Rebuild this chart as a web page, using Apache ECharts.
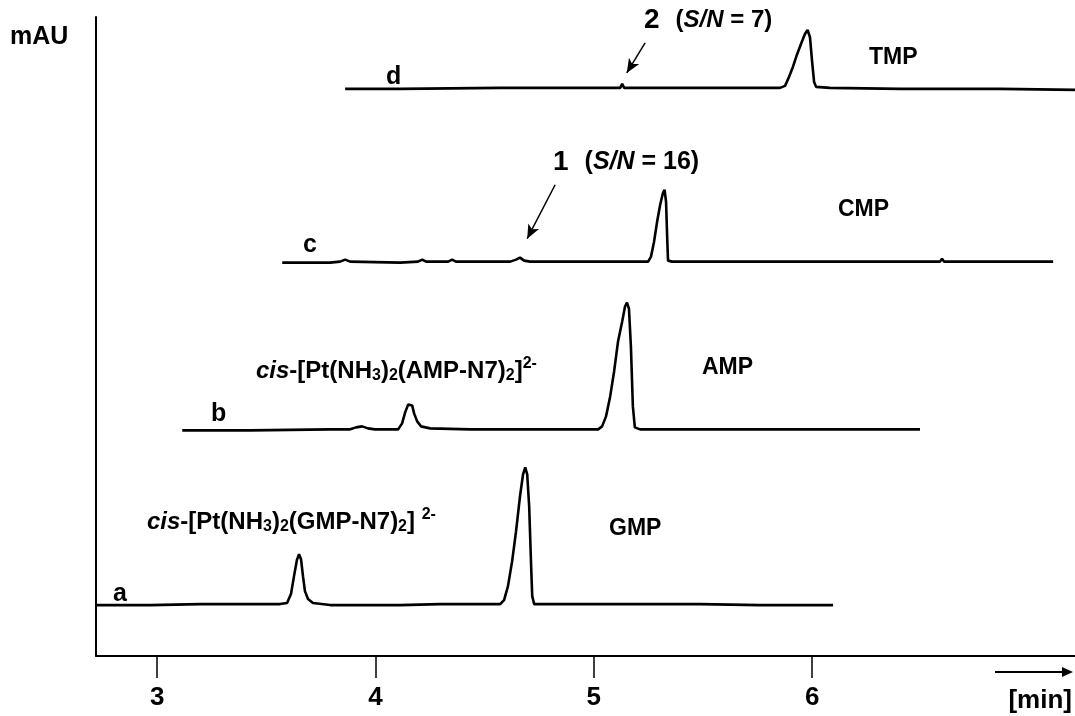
<!DOCTYPE html>
<html>
<head>
<meta charset="utf-8">
<script src="https://cdn.jsdelivr.net/npm/echarts@6/dist/echarts.min.js"></script>
<style>
  html, body { margin: 0; padding: 0; background: #fff; }
  #chart { width: 1075px; height: 716px; }
</style>
</head>
<body>
<div id="chart"></div>
<script>
// electropherograms, [time (min), signal (mAU, traces stacked)]
const traceA = [
  [2.72, 51], [2.968, 51], [3.197, 52], [3.426, 52], [3.563, 52], [3.595, 53],
  [3.613, 62], [3.627, 80], [3.640, 96], [3.650, 102], [3.659, 97], [3.668, 80],
  [3.677, 65], [3.691, 57], [3.714, 53], [3.792, 51], [3.93, 51], [3.939, 52],
  [4.113, 51], [4.296, 52], [4.388, 52], [4.571, 52], [4.589, 56], [4.607, 70],
  [4.626, 95], [4.644, 125], [4.662, 160], [4.676, 182], [4.686, 189], [4.695, 182],
  [4.704, 150], [4.713, 90], [4.718, 60], [4.727, 52], [4.846, 52], [4.983, 52],
  [5.258, 52], [5.487, 52], [5.762, 51], [6.096, 51]
];
const traceB = [
  [3.115, 226], [3.426, 226], [3.792, 227], [3.884, 227], [3.911, 229], [3.939, 230],
  [3.966, 228], [3.998, 227], [4.104, 227], [4.122, 233], [4.136, 244], [4.150, 252],
  [4.159, 254], [4.168, 251], [4.177, 243], [4.191, 235], [4.209, 230], [4.25, 228],
  [4.434, 227], [4.754, 227], [5.02, 227], [5.038, 230], [5.056, 240], [5.075, 260],
  [5.093, 285], [5.111, 315], [5.13, 335], [5.143, 350], [5.152, 354], [5.161, 348],
  [5.17, 310], [5.179, 250], [5.188, 229], [5.212, 227], [5.487, 227], [5.945, 227],
  [6.494, 227]
];
const traceC = [
  [3.573, 394], [3.792, 394], [3.838, 395], [3.861, 397], [3.884, 395], [4.113, 394],
  [4.195, 395], [4.214, 397], [4.232, 395], [4.333, 395], [4.351, 397], [4.369, 395],
  [4.617, 395], [4.644, 397], [4.662, 399], [4.681, 396], [4.708, 395], [5.029, 395],
  [5.249, 395], [5.262, 400], [5.276, 415], [5.29, 435], [5.304, 452], [5.317, 464],
  [5.324, 467], [5.331, 455], [5.336, 420], [5.34, 396], [5.359, 395], [5.716, 395],
  [6.174, 395], [6.586, 395], [6.595, 398], [6.604, 395], [6.701, 395], [6.71, 397],
  [6.719, 395], [7.104, 395]
];
const traceD = [
  [3.861, 568], [4.113, 568], [4.571, 569], [4.846, 569], [5.121, 569], [5.13, 573],
  [5.139, 569], [5.304, 569], [5.313, 570], [5.322, 569], [5.487, 569], [5.615, 569],
  [5.624, 571], [5.633, 569], [5.853, 569], [5.876, 571], [5.894, 580], [5.912, 590],
  [5.93, 602], [5.949, 613], [5.967, 623], [5.979, 627], [5.99, 620], [6.0, 595],
  [6.009, 575], [6.018, 570], [6.082, 569], [6.403, 568], [6.861, 568], [7.204, 567]
];
const tickValues = [3, 4, 5, 6];

const chart = echarts.init(document.getElementById('chart'), null, { renderer: 'canvas' });

const FONT = 'Liberation Sans, Arial, sans-serif';
const black = '#000';

function trace(data, extra) {
  return Object.assign({
    type: 'line',
    data: data,
    showSymbol: false,
    smooth: false,
    silent: true,
    lineStyle: { color: black, width: 2.6 }
  }, extra || {});
}

function arrow(from, to) {
  return {
    silent: true,
    symbol: ['none', 'arrow'],
    symbolSize: [9, 14],
    label: { show: false },
    lineStyle: { color: black, width: 1.5, type: 'solid' },
    data: [[{ coord: from }, { coord: to }]]
  };
}

function label(text, x, y, size) {
  return {
    type: 'text',
    x: x, y: y,
    style: {
      text: text,
      font: 'bold ' + size + 'px ' + FONT,
      fill: black,
      textAlign: 'left',
      textVerticalAlign: 'middle'
    }
  };
}

const chemRich = {
  n: { fontSize: 24, fontWeight: 'bold', fontFamily: FONT, color: black },
  i: { fontSize: 24, fontWeight: 'bold', fontStyle: 'italic', fontFamily: FONT, color: black },
  sub: { fontSize: 16, fontWeight: 'bold', fontFamily: FONT, color: black, padding: [10, 0, 0, 0] },
  sup: { fontSize: 16, fontWeight: 'bold', fontFamily: FONT, color: black, padding: [0, 0, 14, 0] },
  big: { fontSize: 28, fontWeight: 'bold', fontFamily: FONT, color: black },
  sn: { fontSize: 25, fontWeight: 'bold', fontFamily: FONT, color: black },
  snIt: { fontSize: 25, fontWeight: 'bold', fontStyle: 'italic', fontFamily: FONT, color: black },
  it: { fontSize: 24, fontWeight: 'bold', fontStyle: 'italic', fontFamily: FONT, color: black },
  gap: { fontSize: 23, width: 16 }
};

function rich(text, x, y) {
  return {
    type: 'text',
    x: x, y: y,
    style: {
      text: text,
      rich: chemRich,
      textAlign: 'left',
      textVerticalAlign: 'middle'
    }
  };
}

const option = {
  animation: false,
  backgroundColor: '#fff',
  grid: { left: 96, top: 17, width: 979, height: 639 },
  xAxis: {
    type: 'value',
    min: 2.72,
    max: 7.204,
    axisLine: { show: true, lineStyle: { color: black, width: 2 } },
    axisTick: {
      show: true,
      customValues: tickValues,
      length: 22,
      lineStyle: { color: black, width: 1.5 }
    },
    axisLabel: {
      show: true,
      customValues: tickValues,
      margin: 29,
      color: black,
      fontSize: 26,
      fontWeight: 'bold',
      fontFamily: 'Liberation Sans Narrow, Liberation Sans, Arial, sans-serif'
    },
    splitLine: { show: false }
  },
  yAxis: {
    type: 'value',
    min: 0,
    max: 640,
    axisLine: { show: true, onZero: false, lineStyle: { color: black, width: 2 } },
    axisTick: { show: false },
    axisLabel: { show: false },
    splitLine: { show: false }
  },
  series: [
    trace(traceA),
    trace(traceB),
    trace(traceC, { markLine: arrow([4.823, 472], [4.695, 418]) }),
    trace(traceD, { markLine: arrow([5.235, 614], [5.151, 584]) })
  ],
  graphic: [
    label('mAU', 10, 37, 25),
    label('a', 113, 594, 25),
    label('b', 211, 414, 25),
    label('c', 303, 245, 25),
    label('d', 386, 77, 25),
    label('GMP', 609, 529, 23),
    label('AMP', 702, 368, 23),
    label('CMP', 838, 210, 23),
    label('TMP', 869, 58, 23),
    rich('{i|cis}{n|-[Pt(NH}{sub|3}{n|)}{sub|2}{n|(GMP-N7)}{sub|2}{n|] }{sup|2-}', 147, 522),
    rich('{i|cis}{n|-[Pt(NH}{sub|3}{n|)}{sub|2}{n|(AMP-N7)}{sub|2}{n|]}{sup|2-}', 256, 371),
    rich('{big|1}{gap| }{sn|(}{snIt|S/N}{sn| = 16)}', 553, 162),
    rich('{big|2}{gap| }{n|(}{it|S/N}{n| = 7)}', 644, 20),
    // time arrow and unit
    {
      type: 'line',
      shape: { x1: 995, y1: 672, x2: 1064, y2: 672 },
      style: { stroke: black, lineWidth: 2 }
    },
    {
      type: 'polygon',
      shape: { points: [[1073, 672], [1062, 667], [1062, 677]] },
      style: { fill: black }
    },
    {
      type: 'text',
      x: 1072, y: 701,
      style: {
        text: '[min]',
        font: 'bold 26px ' + FONT,
        fill: black,
        textAlign: 'right',
        textVerticalAlign: 'middle'
      }
    }
  ]
};

chart.setOption(option);
window.addEventListener('resize', chart.resize);
</script>
</body>
</html>
